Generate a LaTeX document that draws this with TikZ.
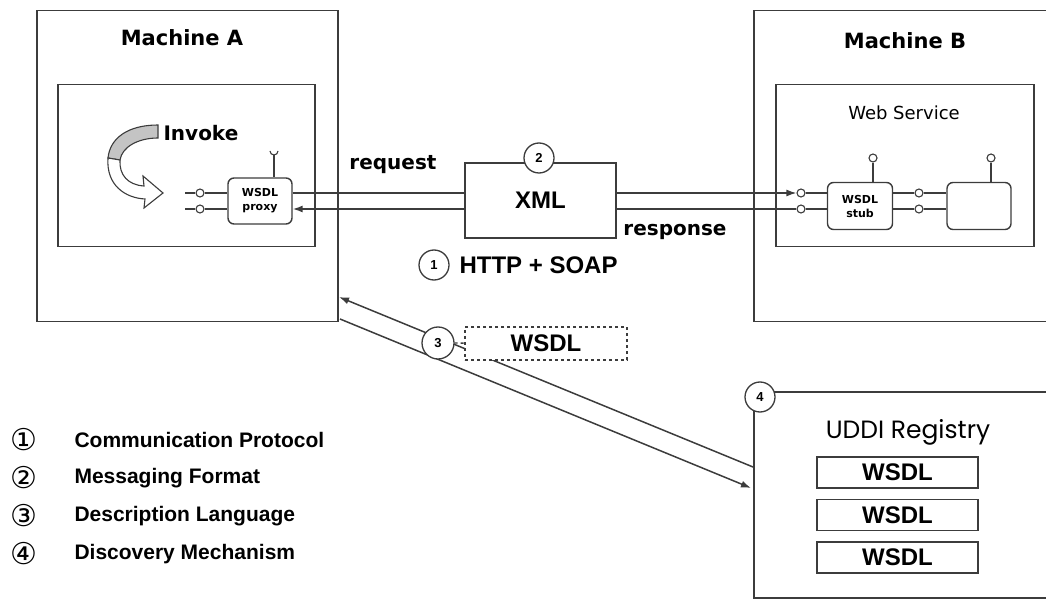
\documentclass[tikz,border=0pt]{standalone}
\usepackage{fontspec}
\setmainfont{Liberation Sans}
\newfontfamily\labelfont{DejaVu Sans}
\newfontfamily\regfont{Poppins}
\usetikzlibrary{arrows.meta}
\definecolor{linegray}{HTML}{3C3C3C}
\definecolor{bandgray}{HTML}{C4C4C4}
\tikzset{>={Latex[length=10pt,width=7pt]},
  hostbox/.style={draw=linegray, line width=1.5pt, anchor=north west, inner sep=0pt},
  partbox/.style={draw=linegray, line width=1.4pt, rounded corners=6pt, fill=white, align=center, inner sep=0pt, font=\labelfont\bfseries\fontsize{11}{14}\selectfont},
  portdot/.style={circle, draw=linegray, line width=1.1pt, fill=white, inner sep=0pt, minimum size=8pt},
  numdot/.style={circle, draw=linegray, line width=1.3pt, fill=white, inner sep=0pt, minimum size=30pt, font=\bfseries\fontsize{13}{13}\selectfont},
  wire/.style={draw=linegray, line width=1.5pt},
  wsdlbox/.style={draw=linegray, line width=1.5pt, fill=white, minimum width=161pt, minimum height=31pt, inner sep=0pt, font=\bfseries\fontsize{24}{24}\selectfont},
  legendline/.style={anchor=west, font=\bfseries\fontsize{21}{21}\selectfont},
  circledigit/.style={font=\labelfont\fontsize{30}{30}\selectfont},
  titlefont/.style={font=\labelfont\bfseries\fontsize{21}{24}\selectfont}
}

\begin{document}
\begin{tikzpicture}[x=1pt, y=-1pt]
    \useasboundingbox (0,0) rectangle (1046,601);

    % machine A
    \node[hostbox, minimum width=301pt, minimum height=311pt] (ma) at (36,10) {};
    \node[titlefont] (mat) at (182,38) {Machine A};
    \node[hostbox, minimum width=257pt, minimum height=162pt] (ia) at (57,84) {};
    \draw[line width=1.1pt, draw=linegray, fill=bandgray] (158,125) .. controls (128,125) and (110,138) .. (108,158) -- (120,160) .. controls (122,147) and (138,138) .. (158,138) -- cycle;
    \draw[line width=1.1pt, draw=linegray, fill=white] (108,158) .. controls (106,185) and (125,198) .. (145,199) -- (144,208) -- (163,193) -- (143,176) -- (144,186) .. controls (128,185) and (119,175) .. (120,160) -- cycle;
    \node[anchor=west, font=\labelfont\bfseries\fontsize{20}{22}\selectfont] (inv) at (160,133) {Invoke};
    \node[partbox, minimum width=64pt, minimum height=46pt] (proxy) at (260,201) {WSDL\\proxy};
    \node[portdot] (pa1) at (200,193) {};
    \node[portdot] (pa2) at (200,209) {};
    \coordinate (ea1) at (185,193);
    \coordinate (ea2) at (185,209);
    \draw[wire] (ea1) -- (pa1) -- (pa1 -| proxy.west);
    \draw[wire] (ea2) -- (pa2) -- (pa2 -| proxy.west);
    \coordinate (cup) at (274,155);
    \draw[wire] (cup) -- (cup |- proxy.north);
    \draw[wire, line width=1.1pt] (270,151) arc (180:0:4);

    % machine B
    \node[hostbox, minimum width=320pt, minimum height=311pt] (mb) at (753,10) {};
    \node[titlefont] (mbt) at (905,41) {Machine B};
    \node[hostbox, minimum width=258pt, minimum height=162pt] (ib) at (775,84) {};
    \node[font=\labelfont\fontsize{18}{20}\selectfont] (ws) at (904,113) {Web Service};
    \node[partbox, minimum width=65pt, minimum height=47pt] (stub) at (860,206) {WSDL\\stub};
    \node[partbox, minimum width=64pt, minimum height=47pt] (impl) at (979,206) {};
    \node[portdot] (pb1) at (801,193) {};
    \node[portdot] (pb2) at (801,209) {};
    \node[portdot] (pc1) at (919,193) {};
    \node[portdot] (pc2) at (919,209) {};
    \node[portdot] (ta) at (873,158) {};
    \node[portdot] (tb) at (991,158) {};
    \draw[wire] (pb1) -- (pb1 -| stub.west);
    \draw[wire] (pb2) -- (pb2 -| stub.west);
    \draw[wire] (stub.east |- pc1) -- (pc1) -- (pc1 -| impl.west);
    \draw[wire] (stub.east |- pc2) -- (pc2) -- (pc2 -| impl.west);
    \draw[wire] (ta) -- (ta |- stub.north);
    \draw[wire] (tb) -- (tb |- impl.north);

    % messages
    \node[draw=linegray, line width=1.5pt, fill=white, minimum width=151pt, minimum height=75pt, font=\bfseries\fontsize{24}{24}\selectfont] (xml) at (540.5,200.5) {XML};
    \node[numdot] (n2) at (539,158) {2};
    \draw[wire] (proxy.east |- pa1) -- (xml.west |- pa1);
    \draw[wire, ->] (xml.east |- pa1) -- (pb1);
    \draw[wire] (pb2) -- (xml.east |- pb2);
    \draw[wire, ->] (xml.west |- pa2) -- (proxy.east |- pa2);
    \node[font=\labelfont\bfseries\fontsize{20}{22}\selectfont] (req) at (393,165) {request};
    \node[font=\labelfont\bfseries\fontsize{20}{22}\selectfont] (resp) at (675,232) {response};
    \node[numdot] (n1) at (434,265) {1};
    \node[anchor=west, font=\bfseries\fontsize{24}{24}\selectfont] (http) at (456,265) {HTTP + SOAP};

    % registry
    \node[hostbox, minimum width=320pt, minimum height=206pt] (uddi) at (753,391) {};
    \node[numdot] (n4) at (760,397) {4};
    \node[font=\regfont\fontsize{25}{27}\selectfont] (reg) at (908,432) {UDDI Registry};
    \node[wsdlbox] (w1) at (897.5,472.5) {WSDL};
    \node[wsdlbox] (w2) at (897.5,515) {WSDL};
    \node[wsdlbox] (w3) at (897.5,557.5) {WSDL};

    % description
    \coordinate (da1) at (339,297);
    \coordinate (ua1) at (753,467);
    \coordinate (da2) at (340,319);
    \coordinate (ua2) at (751,488);
    \draw[wire, ->] (ua1) -- (da1);
    \draw[wire, ->] (da2) -- (ua2);
    \node[draw=linegray, dashed, line width=1.3pt, fill=white, minimum width=162pt, minimum height=33pt, font=\bfseries\fontsize{24}{24}\selectfont] (wdesc) at (546,343.5) {WSDL};
    \node[numdot, minimum size=32pt] (n3) at (438,343) {3};
    \draw[wire, dashed, line width=1.3pt] (n3) -- (wdesc);

    % legend
    \node[circledigit] (l1) at (24,440) {①};
    \node[legendline] (t1) at (71,440) {Communication Protocol};
    \node[circledigit] (l2) at (24,478) {②};
    \node[legendline] (t2) at (71,478) {Messaging Format};
    \node[circledigit] (l3) at (24,516) {③};
    \node[legendline] (t3) at (71,516) {Description Language};
    \node[circledigit] (l4) at (24,554) {④};
    \node[legendline] (t4) at (71,554) {Discovery Mechanism};
\end{tikzpicture}
\end{document}
